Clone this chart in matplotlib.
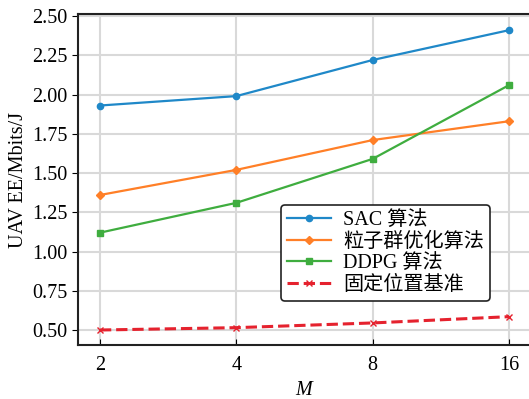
import matplotlib
matplotlib.use("Agg")
import matplotlib.pyplot as plt

plt.rcParams['font.family'] = ['Liberation Serif', 'Noto Sans CJK SC']
plt.rcParams['mathtext.fontset'] = 'custom'
plt.rcParams['mathtext.it'] = 'Liberation Serif:italic'

m_labels = ['2', '4', '8', '16']
sac = [1.93, 1.99, 2.22, 2.41]
pso = [1.36, 1.52, 1.71, 1.83]
ddpg = [1.12, 1.31, 1.59, 2.06]
fixed = [0.50, 0.515, 0.545, 0.585]
y_ticks = [0.50, 0.75, 1.00, 1.25, 1.50, 1.75, 2.00, 2.25, 2.50]

fig = plt.figure(figsize=(5.29, 3.99), dpi=100)
ax = fig.add_axes([78/529, (399-345)/399, (531-78)/529, 331/399])
x = list(range(len(m_labels)))

ax.plot(x, sac, color='#1f88c8', marker='o', ms=4.5, lw=1.6, label='SAC 算法')
ax.plot(x, pso, color='#ff7f27', marker='D', ms=4.5, lw=1.6, label='粒子群优化算法')
ax.plot(x, ddpg, color='#3fad3f', marker='s', ms=4.5, lw=1.6, label='DDPG 算法')
ax.plot(x, fixed, color='#e5222e', marker='x', ms=4.5, lw=2.2, ls='--', label='固定位置基准')

ax.set_xticks(x)
ax.set_xticklabels(m_labels)
ax.set_yticks(y_ticks)
ax.set_yticklabels([f'{v:.2f}' for v in y_ticks])
ax.set_xlim(-0.161, 3.161)
ax.set_ylim(0.4045, 2.513)
ax.grid(True, color='#d9d9d9', lw=1.5)
ax.set_axisbelow(True)
ax.tick_params(axis='both', labelsize=14.5, colors='black')
ax.tick_params(axis='x', direction='in', length=4, pad=8)
ax.tick_params(axis='y', direction='out', length=4)
for s in ax.spines.values():
    s.set_linewidth(1.5)
    s.set_color('#222222')

ax.set_xlabel('$M$', fontsize=14.5, labelpad=4)
ax.set_ylabel('UAV EE/Mbits/J', fontsize=14.5, labelpad=3)

leg = ax.legend(loc='upper left', bbox_to_anchor=((281-78)/453, (345-205)/331),
                fontsize=14.5, frameon=True, fancybox=True, edgecolor='#222222',
                framealpha=1, handlelength=2.2, borderpad=0.3, labelspacing=0.12,
                handletextpad=0.6, borderaxespad=0)
leg.get_frame().set_linewidth(1.2)

fig.savefig('out.png', dpi=100)
